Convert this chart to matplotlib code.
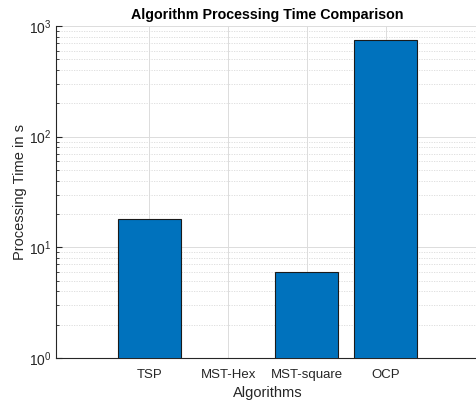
import matplotlib
matplotlib.use("Agg")
import matplotlib.pyplot as plt
from matplotlib.ticker import LogLocator, NullFormatter

plt.rcParams['font.family'] = ['Liberation Sans', 'DejaVu Sans']
plt.rcParams['mathtext.fontset'] = 'custom'
plt.rcParams['mathtext.rm'] = 'Liberation Sans'
plt.rcParams['mathtext.it'] = 'Liberation Sans'

categories = ["TSP", "MST-Hex", "MST-square", "OCP"]
times = [18.0, 0.5, 6.0, 740.0]

fig = plt.figure(figsize=(4.77, 4.01), dpi=100)
ax = fig.add_axes([56/477, 1 - 358/401, 1.005 - 56/477, (358 - 26)/401])

pos = list(range(1, len(categories) + 1))
ax.bar(pos, times, width=0.8, color='#0072BD', edgecolor='#1a1a1a', linewidth=0.8, zorder=3)

ax.set_yscale('log')
ax.set_ylim(1, 1000)
ax.set_xlim(-0.186, 5.19)
ax.set_xticks(pos)
ax.set_xticklabels(categories, fontsize=9.5, color='#262626')
ax.set_yticks([1, 10, 100, 1000])
ax.set_yticklabels([r'$10^{0}$', r'$10^{1}$', r'$10^{2}$', r'$10^{3}$'], fontsize=10, color='#262626')
ax.yaxis.set_minor_locator(LogLocator(base=10, subs=range(2, 10)))
ax.yaxis.set_minor_formatter(NullFormatter())

ax.grid(True, which='major', color='#dcdcdc', linewidth=0.7, zorder=0)
ax.grid(True, which='minor', axis='y', color='#dadada', linewidth=0.6, linestyle=(0, (1.5, 1.5)), zorder=0)
ax.set_axisbelow(True)

for s in ['top', 'right']:
    ax.spines[s].set_visible(False)
for s in ['left', 'bottom']:
    ax.spines[s].set_color('#262626')
    ax.spines[s].set_linewidth(0.8)
ax.tick_params(which='both', direction='in', color='#262626')
ax.tick_params(which='major', length=4)
ax.tick_params(which='minor', length=2)
ax.tick_params(axis='x', length=0, pad=8)

ax.set_title("Algorithm Processing Time Comparison", fontsize=10.3, fontweight='bold', pad=5, x=0.5)
ax.set_xlabel("Algorithms", fontsize=10.5, color='#262626', labelpad=3.5)
ax.set_ylabel("Processing Time in s", fontsize=10.5, color='#262626', labelpad=1)

fig.savefig("out.png", dpi=100)
